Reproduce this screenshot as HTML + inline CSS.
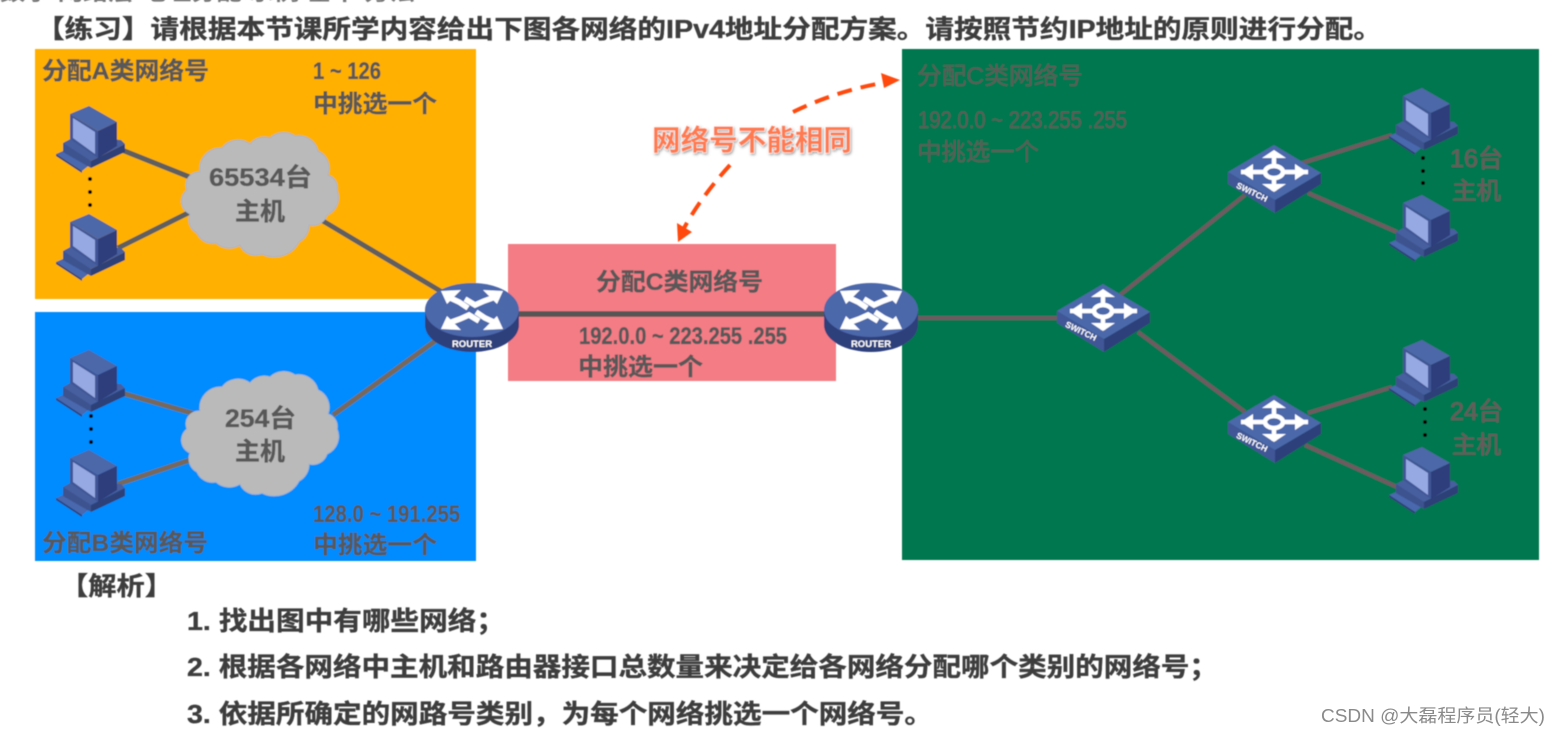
<!DOCTYPE html>
<html lang="zh">
<head>
<meta charset="utf-8">
<title>IPv4地址分配</title>
<style>
html,body{margin:0;padding:0;background:#fff;width:1559px;height:735px;overflow:hidden}
svg{display:block}
text{font-family:"Liberation Sans","Noto Sans CJK SC",sans-serif;font-weight:700;fill:#595959;stroke:#595959;stroke-width:.35}
.g{fill:#5e5a58;stroke:none;font-weight:400}
.b{fill:#3d3d3d;stroke:#3d3d3d}
.h{fill:#6b5a5c;stroke:#6b5a5c;font-weight:400}
.w{fill:#fff;stroke:none}
</style>
</head>
<body>
<svg xmlns="http://www.w3.org/2000/svg" width="1559" height="735" viewBox="0 0 1559 735">
<defs>
<filter id="soft" x="-5%" y="-5%" width="110%" height="110%"><feGaussianBlur stdDeviation="0.5"/></filter>
<filter id="sh" x="-10%" y="-30%" width="120%" height="160%"><feDropShadow dx="1" dy="1.5" stdDeviation="1.2" flood-color="#777" flood-opacity=".7"/></filter>
<g id="pc">
  <polygon points="0,48 14,42 36,57 26,65" fill="#4a68ad"/>
  <polygon points="0,48 26,65 26,67 0,50" fill="#2e3f78"/>
  <polygon points="7,37 20,30 65,34 69,38 35,55 7,40" fill="#475f9f"/>
  <polygon points="7,37 35,55 35,62 7,46" fill="#3d538f"/>
  <polygon points="35,55 69,38 69,46 35,62" fill="#2e3f78"/>
  <polygon points="14,8 33,0 61,16 42,25" fill="#4d68a8"/>
  <polygon points="42,25 61,16 61,40 42,52" fill="#2d3e7c"/>
  <polygon points="14,8 42,25 42,52 14,33" fill="#3f5696"/>
  <polygon points="17,12 39,26 39,48 17,32" fill="#97a9e2"/>
</g>
<g id="router">
  <path d="M-47 0 V15 A47 27 0 0 0 47 15 V0 Z" fill="#2f3f7b"/>
  <ellipse cx="0" cy="0" rx="47" ry="27" fill="#4c67ab"/>
  <g fill="none" stroke="#fff" stroke-width="5.5">
    <path d="M-26 -14 L-13 -8 L-4 -2"/>
    <path d="M26 -14 L12 -9 L3 -5 L-7 -11"/>
    <path d="M-26 14 L-12 9 L-3 5 L7 11"/>
    <path d="M26 14 L13 8 L4 2"/>
  </g>
  <g fill="#fff">
    <polygon points="-31,-19 -11,-20 -25,-6"/>
    <polygon points="31,-19 11,-20 25,-6"/>
    <polygon points="-31,19 -11,20 -25,6"/>
    <polygon points="31,19 11,20 25,6"/>
  </g>
  <text x="0" y="37" text-anchor="middle" font-size="9.5" class="w">ROUTER</text>
</g>
<g id="switch">
  <polygon points="0,27 47,55 47,68 0,39" fill="#3f5696"/>
  <polygon points="47,55 93,28 93,39 47,68" fill="#2f3f7b"/>
  <polygon points="0,27 46,0 93,28 47,55" fill="#4c67ab"/>
  <g stroke="#fff" stroke-width="4.5" fill="none">
    <ellipse cx="46" cy="27" rx="9" ry="6"/>
    <path d="M46 8 V20 M46 34 V46 M13 27 H36 M56 27 H80"/>
  </g>
  <g fill="#fff">
    <polygon points="46,5 34,13 58,13"/>
    <polygon points="46,47 34,39 58,39"/>
    <polygon points="13,27 25,19 25,35"/>
    <polygon points="79,27 67,19 67,35"/>
  </g>
  <text x="0" y="0" transform="translate(24,47) rotate(26)" text-anchor="middle" font-size="8.5" class="w" dy="3">SWITCH</text>
</g>
<path id="cloud" d="M200 172 A21 21 0 0 1 222 148 A20 20 0 0 1 250 144 A18 18 0 0 1 270 138 A20 20 0 0 1 295 136 A20 20 0 0 1 318 151 A19 19 0 0 1 328 175 A13 13 0 0 1 337 190 A19 19 0 0 1 327 215 A15 15 0 0 1 309 225 A19 19 0 0 1 299 242 A28 28 0 0 1 262 254 A17 17 0 0 1 240 245 A20 20 0 0 1 216 243 A17 17 0 0 1 197 233 A15 15 0 0 1 190 214 A14 14 0 0 1 187 190 A13 13 0 0 1 200 172 Z" fill="#bababa" stroke="#a9b4c6" stroke-width="1"/>
</defs>

<g filter="url(#soft)">
<text x="0" y="0" font-size="20" class="n" style="fill:#777;stroke:none" textLength="415" lengthAdjust="spacingAndGlyphs">数字 网络层 地址分配 示例 基本 方法</text>
<text x="36" y="38" font-size="25.5" class="b" textLength="1346" lengthAdjust="spacingAndGlyphs">【练习】请根据本节课所学内容给出下图各网络的IPv4地址分配方案。请按照节约IP地址的原则进行分配。</text>

<rect x="35" y="49" width="441" height="250" fill="#ffb000"/>
<rect x="35" y="312" width="441" height="249" fill="#008cff"/>
<rect x="508" y="244" width="328" height="137" fill="#f47c85"/>
<rect x="902" y="49" width="637" height="511" fill="#00774f"/>

<g stroke="#5f5f5f" stroke-width="5" fill="none">
  <path d="M122 150 L192 178"/><path d="M118 248 L190 212"/><path d="M318 218 L442 292"/>
</g>
<g stroke="#76695c" stroke-width="5" fill="none">
  <path d="M122 393 L195 414"/><path d="M118 484 L190 460"/><path d="M333 415 L442 336"/>
</g>
<path d="M515 314 L830 314" stroke="#555" stroke-width="5.5"/>
<g stroke="#6e5a60" stroke-width="4" fill="none">
  <path d="M915 318 L1060 318"/>
  <path d="M1120 295 L1245 195"/>
  <path d="M1138 332 L1245 412"/>
  <path d="M1302 163 L1392 135"/>
  <path d="M1308 193 L1397 232"/>
  <path d="M1308 413 L1392 387"/>
  <path d="M1305 445 L1397 487"/>
</g>

<use href="#pc" x="56" y="106"/>
<use href="#pc" x="56" y="214"/>
<use href="#pc" x="56" y="350"/>
<use href="#pc" x="56" y="450"/>
<use href="#pc" x="1389" y="88"/>
<use href="#pc" x="1389" y="195"/>
<use href="#pc" x="1389" y="340"/>
<use href="#pc" x="1389" y="447"/>

<g fill="#000">
  <circle cx="90" cy="179" r="2"/><circle cx="90" cy="192" r="2"/><circle cx="90" cy="205" r="2"/>
  <circle cx="91" cy="416" r="2"/><circle cx="91" cy="429" r="2"/><circle cx="91" cy="442" r="2"/>
  <circle cx="1423" cy="158" r="2"/><circle cx="1423" cy="171" r="2"/><circle cx="1423" cy="183" r="2"/>
  <circle cx="1425" cy="409" r="2"/><circle cx="1425" cy="422" r="2"/><circle cx="1425" cy="435" r="2"/>
</g>

<use href="#cloud"/>
<use href="#cloud" y="239"/>
<use href="#router" x="472" y="310"/>
<use href="#router" x="871" y="310"/>
<use href="#switch" x="1057" y="284"/>
<use href="#switch" x="1228" y="145"/>
<use href="#switch" x="1228" y="395"/>

<text x="42" y="79" font-size="24" textLength="167" lengthAdjust="spacingAndGlyphs">分配A类网络号</text>
<text x="313" y="79" font-size="24" textLength="68" lengthAdjust="spacingAndGlyphs">1 ~ 126</text>
<text x="313" y="112" font-size="24" textLength="124" lengthAdjust="spacingAndGlyphs">中挑选一个</text>
<text x="209" y="186" font-size="25" textLength="103" lengthAdjust="spacingAndGlyphs">65534台</text>
<text x="235" y="220" font-size="25" textLength="50" lengthAdjust="spacingAndGlyphs">主机</text>

<text x="225" y="427" font-size="25" textLength="71" lengthAdjust="spacingAndGlyphs">254台</text>
<text x="235" y="460" font-size="25" textLength="50" lengthAdjust="spacingAndGlyphs">主机</text>
<text x="313" y="522" font-size="24" textLength="147" lengthAdjust="spacingAndGlyphs">128.0 ~ 191.255</text>
<text x="313" y="553" font-size="24" textLength="124" lengthAdjust="spacingAndGlyphs">中挑选一个</text>
<text x="42" y="551" font-size="24" textLength="166" lengthAdjust="spacingAndGlyphs">分配B类网络号</text>

<text x="596" y="290" font-size="24" textLength="167" lengthAdjust="spacingAndGlyphs">分配C类网络号</text>
<text x="579" y="344" font-size="24" textLength="208" lengthAdjust="spacingAndGlyphs">192.0.0 ~ 223.255 .255</text>
<text x="578" y="375" font-size="24" textLength="125" lengthAdjust="spacingAndGlyphs">中挑选一个</text>

<text x="917" y="84" font-size="24" class="g" textLength="166" lengthAdjust="spacingAndGlyphs">分配C类网络号</text>
<text x="918" y="128" font-size="24" class="g" textLength="209" lengthAdjust="spacingAndGlyphs">192.0.0 ~ 223.255 .255</text>
<text x="917" y="160" font-size="24" class="g" textLength="122" lengthAdjust="spacingAndGlyphs">中挑选一个</text>
<text x="1450" y="167" font-size="25" class="h" textLength="53" lengthAdjust="spacingAndGlyphs">16台</text>
<text x="1452" y="199" font-size="24" class="h" textLength="49" lengthAdjust="spacingAndGlyphs">主机</text>
<text x="1450" y="420" font-size="25" class="h" textLength="53" lengthAdjust="spacingAndGlyphs">24台</text>
<text x="1452" y="453" font-size="24" class="h" textLength="49" lengthAdjust="spacingAndGlyphs">主机</text>

<path d="M793 112 Q838 90 888 82" fill="none" stroke="#ff4a10" stroke-width="4" stroke-dasharray="15 9"/>
<polygon points="900,80 881,73 884,88" fill="#ff4a10"/>
<path d="M730 165 Q700 198 683 230" fill="none" stroke="#ff4a10" stroke-width="4" stroke-dasharray="15 9"/>
<polygon points="678,242 677,223 692,232" fill="#ff4a10"/>
<text x="652" y="150" font-size="28.5" filter="url(#sh)" style="fill:#ff7a4f;stroke:#fff;stroke-width:1;paint-order:stroke" textLength="200" lengthAdjust="spacingAndGlyphs">网络号不能相同</text>

<text x="60" y="595" font-size="25.5" class="b" textLength="113" lengthAdjust="spacingAndGlyphs">【解析】</text>
<text x="187" y="630" font-size="26" class="b" textLength="318" lengthAdjust="spacingAndGlyphs">1. 找出图中有哪些网络；</text>
<text x="187" y="676" font-size="26" class="b" textLength="1031" lengthAdjust="spacingAndGlyphs">2. 根据各网络中主机和路由器接口总数量来决定给各网络分配哪个类别的网络号；</text>
<text x="187" y="723" font-size="26" class="b" textLength="746" lengthAdjust="spacingAndGlyphs">3. 依据所确定的网路号类别，为每个网络挑选一个网络号。</text>
</g>

<text x="1321" y="722" font-size="18" style="fill:#8a8a8a;stroke:none;font-weight:400" textLength="224" lengthAdjust="spacingAndGlyphs">CSDN @大磊程序员(轻大)</text>
</svg>
</body>
</html>
